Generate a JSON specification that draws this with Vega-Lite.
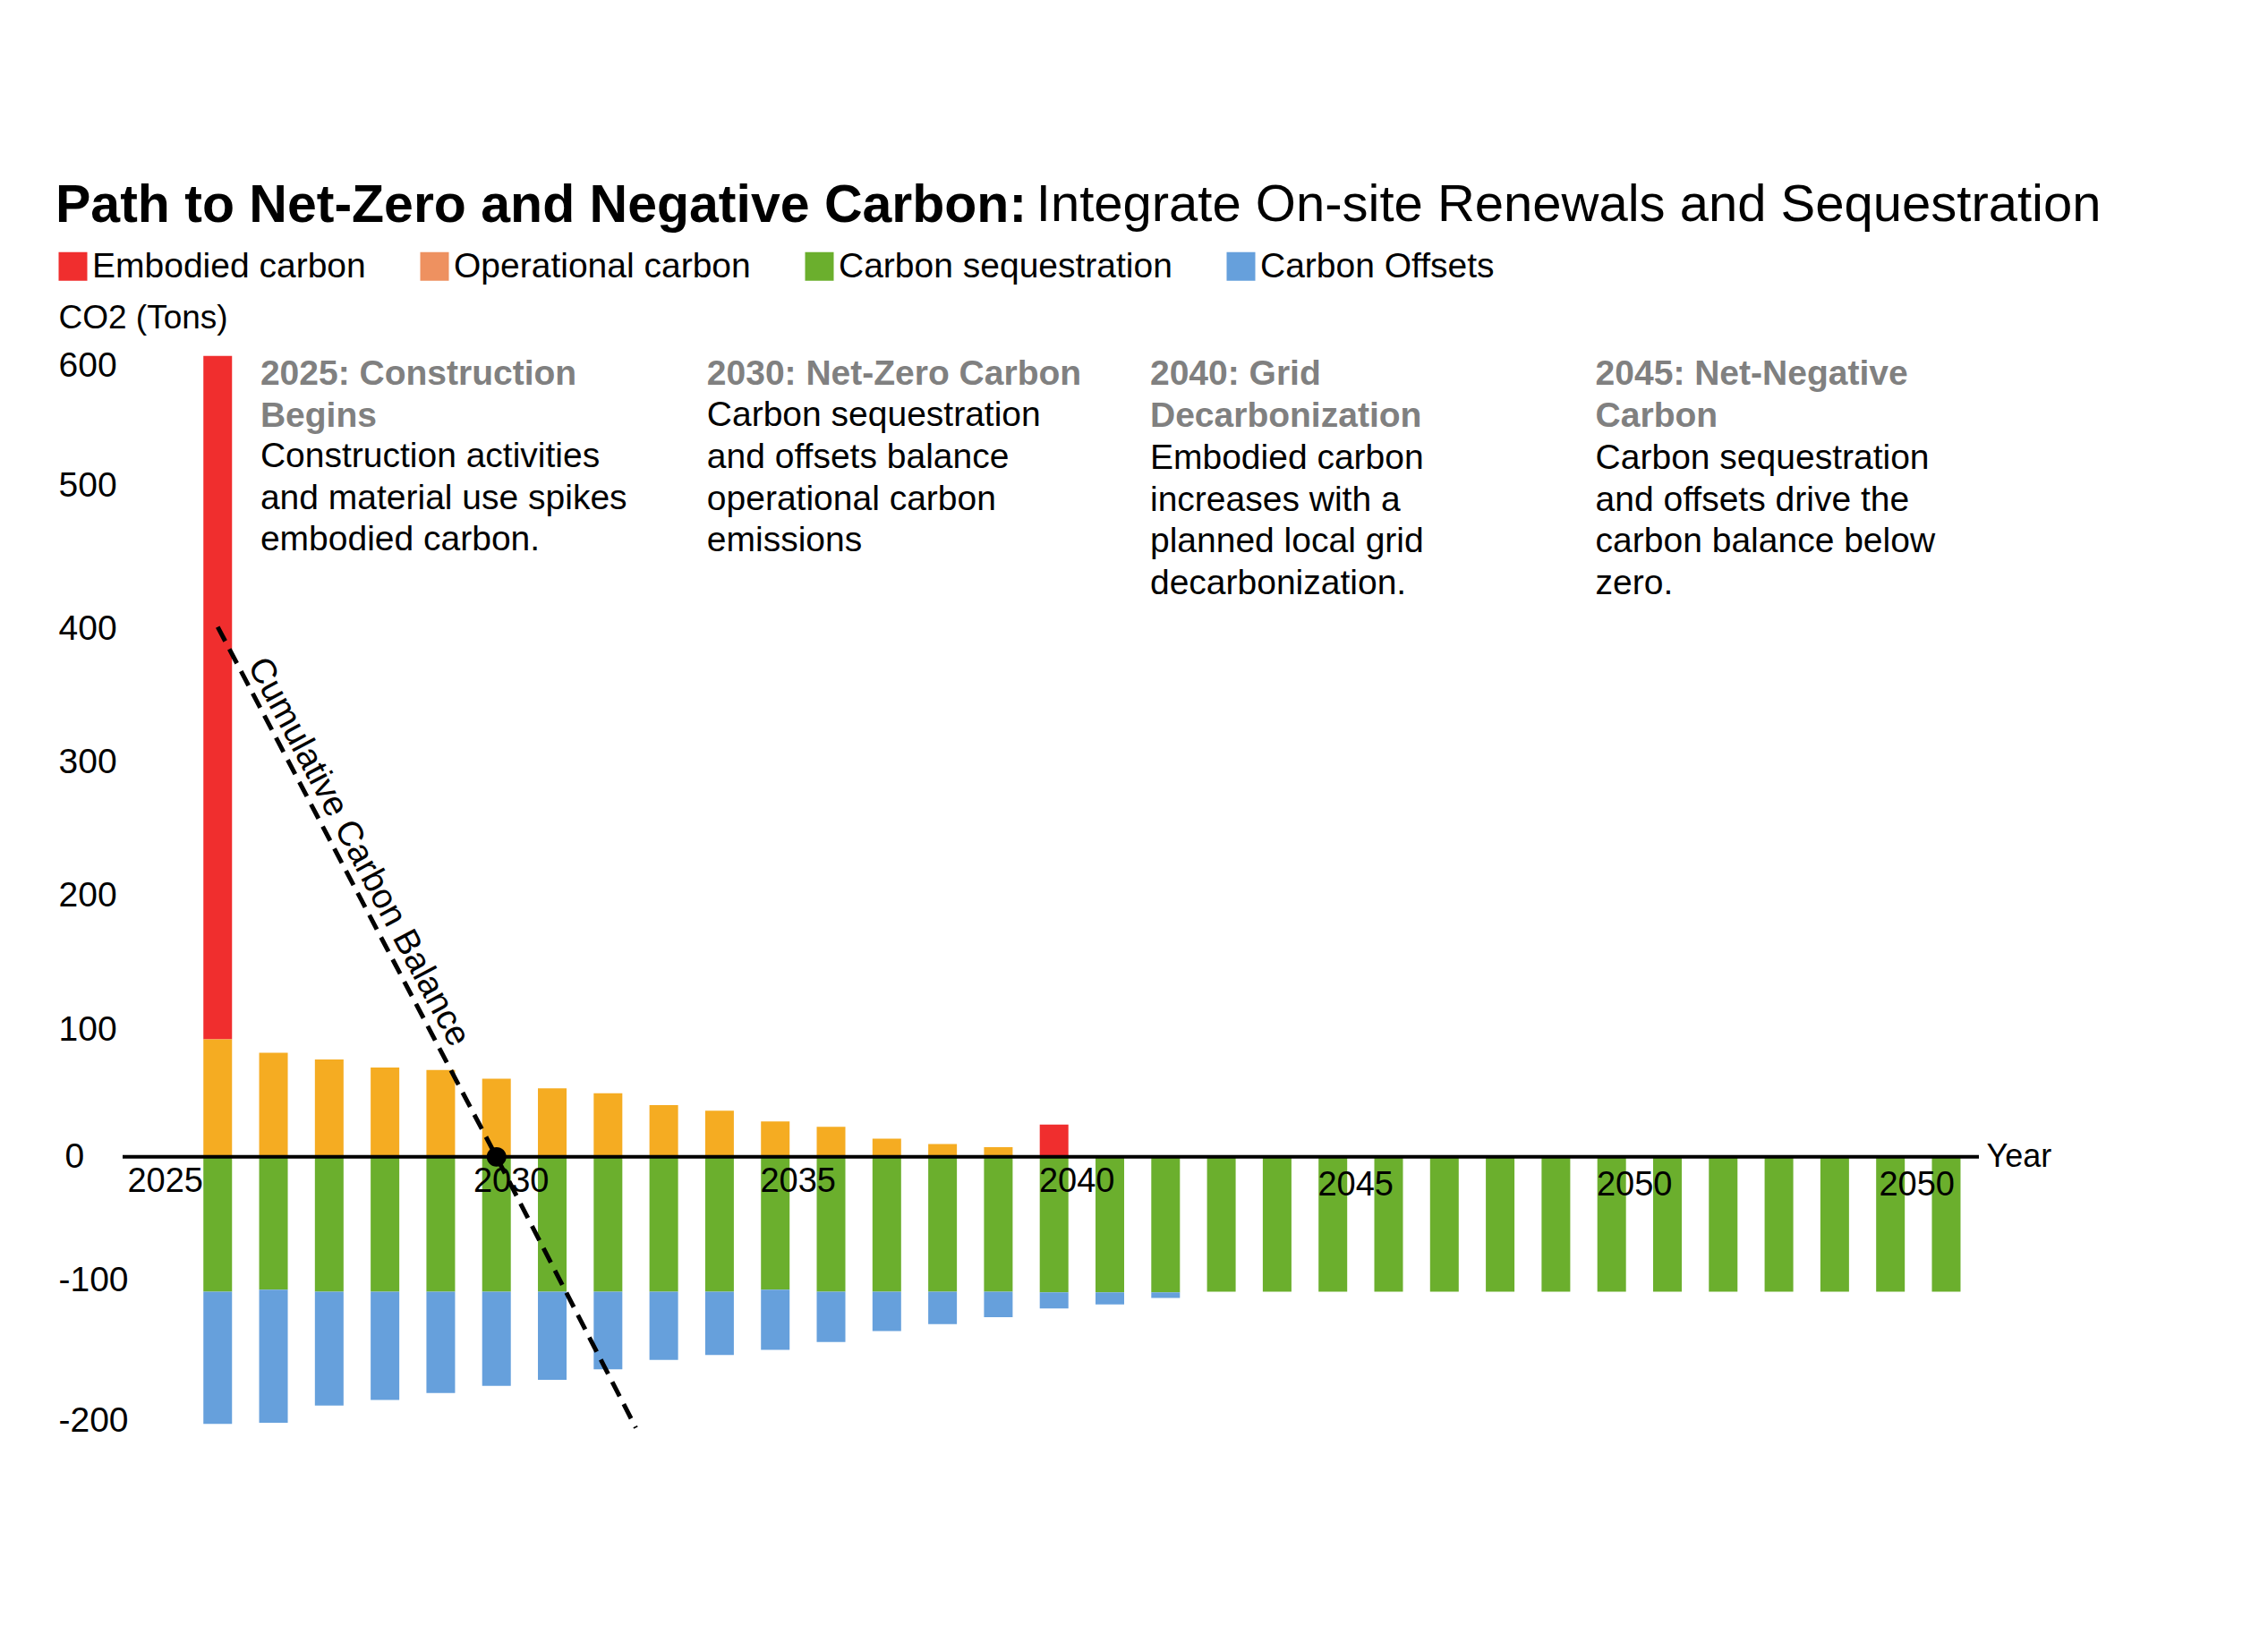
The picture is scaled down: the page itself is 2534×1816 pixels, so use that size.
{
  "$schema": "https://vega.github.io/schema/vega-lite/v6.json",
  "width": 2074,
  "height": 1298,
  "autosize": {"type": "none"},
  "padding": {"left": 137, "top": 338, "right": 323, "bottom": 180},
  "background": "white",
  "config": {
    "font": "Liberation Sans",
    "view": {"stroke": null}
  },
  "title": {
    "text": "Path to Net-Zero and Negative Carbon:",
    "subtitle": "\u200b\u00a0\u00a0\u00a0\u00a0\u00a0\u00a0\u00a0\u00a0\u00a0\u00a0\u00a0\u00a0\u00a0\u00a0\u00a0\u00a0\u00a0\u00a0\u00a0\u00a0\u00a0\u00a0\u00a0\u00a0\u00a0\u00a0\u00a0\u00a0\u00a0\u00a0\u00a0\u00a0\u00a0\u00a0\u00a0\u00a0\u00a0\u00a0\u00a0\u00a0\u00a0\u00a0\u00a0\u00a0\u00a0\u00a0\u00a0\u00a0\u00a0\u00a0\u00a0\u00a0\u00a0\u00a0\u00a0\u00a0\u00a0\u00a0\u00a0\u00a0\u00a0\u00a0\u00a0\u00a0\u00a0\u00a0\u00a0\u00a0Integrate On-site Renewals and Sequestration",
    "anchor": "start",
    "frame": "bounds",
    "font": "Liberation Sans",
    "fontSize": 59,
    "fontWeight": "bold",
    "color": "black",
    "subtitleFont": "Liberation Sans",
    "subtitleFontSize": 58,
    "subtitleFontWeight": "normal",
    "subtitleColor": "black",
    "subtitlePadding": -59,
    "offset": 18
  },
  "datasets": {
    "bars": [
      {"year": 2025, "Embodied carbon": 512, "Operational carbon": 88, "Carbon sequestration": -101, "Carbon Offsets": -99},
      {"year": 2026, "Operational carbon": 78, "Carbon sequestration": -99.5, "Carbon Offsets": -99.7},
      {"year": 2027, "Operational carbon": 73, "Carbon sequestration": -101, "Carbon Offsets": -85.2},
      {"year": 2028, "Operational carbon": 67, "Carbon sequestration": -101, "Carbon Offsets": -81},
      {"year": 2029, "Operational carbon": 65, "Carbon sequestration": -101, "Carbon Offsets": -75.8},
      {"year": 2030, "Operational carbon": 58.5, "Carbon sequestration": -101, "Carbon Offsets": -70.6},
      {"year": 2031, "Operational carbon": 51.3, "Carbon sequestration": -101, "Carbon Offsets": -66},
      {"year": 2032, "Operational carbon": 47.7, "Carbon sequestration": -101, "Carbon Offsets": -58.2},
      {"year": 2033, "Operational carbon": 38.8, "Carbon sequestration": -101, "Carbon Offsets": -51.1},
      {"year": 2034, "Operational carbon": 34.6, "Carbon sequestration": -101, "Carbon Offsets": -47.4},
      {"year": 2035, "Operational carbon": 26.6, "Carbon sequestration": -99.5, "Carbon Offsets": -45.1},
      {"year": 2036, "Operational carbon": 22.6, "Carbon sequestration": -101, "Carbon Offsets": -37.7},
      {"year": 2037, "Operational carbon": 13.6, "Carbon sequestration": -101, "Carbon Offsets": -29.5},
      {"year": 2038, "Operational carbon": 9.6, "Carbon sequestration": -101, "Carbon Offsets": -24.3},
      {"year": 2039, "Operational carbon": 7.3, "Carbon sequestration": -101, "Carbon Offsets": -19},
      {"year": 2040, "Embodied carbon": 24.2, "Carbon sequestration": -101.5, "Carbon Offsets": -12},
      {"year": 2041, "Carbon sequestration": -101.5, "Carbon Offsets": -9},
      {"year": 2042, "Carbon sequestration": -101.5, "Carbon Offsets": -4.2},
      {"year": 2043, "Carbon sequestration": -101},
      {"year": 2044, "Carbon sequestration": -101},
      {"year": 2045, "Carbon sequestration": -101},
      {"year": 2046, "Carbon sequestration": -101},
      {"year": 2047, "Carbon sequestration": -101},
      {"year": 2048, "Carbon sequestration": -101},
      {"year": 2049, "Carbon sequestration": -101},
      {"year": 2050, "Carbon sequestration": -101},
      {"year": 2051, "Carbon sequestration": -101},
      {"year": 2052, "Carbon sequestration": -101},
      {"year": 2053, "Carbon sequestration": -101},
      {"year": 2054, "Carbon sequestration": -101},
      {"year": 2055, "Carbon sequestration": -101},
      {"year": 2056, "Carbon sequestration": -101}
    ],
    "balance": [
      {"year": 2025, "value": 397},
      {"year": 2030, "value": 0},
      {"year": 2032.5, "value": -203}
    ],
    "netzero": [{"year": 2030, "value": 0}],
    "curve": [{"year": 2027.53, "value": 228.5, "text": "Cumulative Carbon Balance"}],
    "heads": [
      {"year": 2025.765, "value": 599, "text": ["2025: Construction", "Begins"]},
      {"year": 2033.774, "value": 599, "text": ["2030: Net-Zero Carbon"]},
      {"year": 2041.722, "value": 599, "text": ["2040: Grid", "Decarbonization"]},
      {"year": 2049.71, "value": 599, "text": ["2045: Net-Negative", "Carbon"]}
    ],
    "bodies": [
      {"year": 2025.765, "value": 537.5, "text": ["Construction activities", "and material use spikes", "embodied carbon."]},
      {"year": 2033.774, "value": 568, "text": ["Carbon sequestration", "and offsets balance", "operational carbon", "emissions"]},
      {"year": 2041.722, "value": 536, "text": ["Embodied carbon", "increases with a", "planned local grid", "decarbonization."]},
      {"year": 2049.71, "value": 536, "text": ["Carbon sequestration", "and offsets drive the", "carbon balance below", "zero."]}
    ]
  },
  "layer": [
    {
      "data": {"name": "bars"},
      "transform": [
        {"fold": ["Embodied carbon", "Operational carbon", "Carbon sequestration", "Carbon Offsets"], "as": ["type", "value"]},
        {"filter": "isValid(datum.value)"}
      ],
      "mark": {"type": "bar", "width": 32},
      "encoding": {
        "x": {
          "field": "year", "type": "quantitative",
          "scale": {"domain": [2023.375, 2056.506], "nice": false, "zero": false},
          "axis": {
            "values": [2025, 2030, 2035, 2040, 2045, 2050, 2055],
            "labelExpr": "datum.value == 2055 ? '2050' : '' + datum.value",
            "offset": -343.15,
            "domain": false, "ticks": false, "tickSize": 0, "grid": false,
            "labelFontSize": 38, "labelBaseline": "top", "labelAlign": "center",
            "labelPadding": {"expr": "datum.value >= 2045 ? 13 : 9"},
            "labelOverlap": false, "labelFlush": false, "labelColor": "black",
            "labelOffset": {"expr": "datum.value == 2025 ? -59 : datum.value == 2030 ? 16 : datum.value == 2055 ? 29 : 25"},
            "title": "Year", "titleFontSize": 36, "titleFontWeight": "normal", "titleColor": "black",
            "titleAlign": "left", "titleBaseline": "middle", "titleX": 2082, "titleY": 0,
            "zindex": 1
          }
        },
        "y": {
          "field": "value", "type": "quantitative", "stack": "zero",
          "scale": {"domain": [-230, 640], "nice": false, "zero": false},
          "axis": {
            "values": [600, 500, 400, 300, 200, 100, 0, -100, -200],
            "labelExpr": "'' + datum.value",
            "domain": false, "ticks": false, "tickSize": 0, "grid": false,
            "labelAlign": "left", "labelBaseline": "middle", "labelFontSize": 39,
            "labelPadding": {"expr": "datum.value == 0 ? 65 : 72"},
            "labelOffset": {"expr": "datum.value == 600 ? 11 : datum.value == 500 ? -4 : datum.value == 400 ? 6 : datum.value == 300 ? 6 : datum.value == 200 ? 6 : datum.value == 100 ? 7 : datum.value == 0 ? 0 : datum.value == -100 ? -12 : -4"},
            "labelColor": "black", "labelOverlap": false, "labelFlush": false,
            "title": "CO2 (Tons)", "titleAngle": 0, "titleAlign": "left", "titleBaseline": "middle",
            "titleFontSize": 37, "titleFontWeight": "normal", "titleColor": "black", "titleX": -72, "titleY": 17
          }
        },
        "color": {
          "condition": {"test": "datum.type === 'Operational carbon'", "value": "#F5AC22"},
          "field": "type", "type": "nominal",
          "scale": {
            "domain": ["Embodied carbon", "Operational carbon", "Carbon sequestration", "Carbon Offsets"],
            "range": ["#F02E2E", "#EE9160", "#6BAF2D", "#66A0DC"]
          },
          "legend": {
            "orient": "none", "legendX": -75, "legendY": -60, "direction": "horizontal", "title": null,
            "symbolType": "square", "symbolSize": 1024, "symbolStrokeWidth": 0, "symbolOpacity": 1,
            "labelFontSize": 39, "labelColor": "black", "labelOffset": 2, "labelLimit": 1000,
            "columnPadding": 57, "padding": 0
          }
        },
        "order": {"field": "type", "sort": "descending"}
      }
    },
    {
      "data": {"values": [{}]},
      "mark": {"type": "rule", "color": "black", "strokeWidth": 4},
      "encoding": {"y": {"datum": 0, "type": "quantitative"}}
    },
    {
      "data": {"name": "balance"},
      "mark": {"type": "line", "color": "black", "strokeWidth": 5, "strokeDash": [18, 10]},
      "encoding": {
        "x": {"field": "year", "type": "quantitative"},
        "y": {"field": "value", "type": "quantitative"}
      }
    },
    {
      "data": {"name": "netzero"},
      "mark": {"type": "point", "filled": true, "size": 480, "color": "black", "opacity": 1},
      "encoding": {
        "x": {"field": "year", "type": "quantitative"},
        "y": {"field": "value", "type": "quantitative"}
      }
    },
    {
      "data": {"name": "curve"},
      "mark": {"type": "text", "angle": 62, "fontSize": 39, "align": "center", "baseline": "middle", "color": "black"},
      "encoding": {
        "x": {"field": "year", "type": "quantitative"},
        "y": {"field": "value", "type": "quantitative"},
        "text": {"field": "text"}
      }
    },
    {
      "data": {"name": "heads"},
      "mark": {"type": "text", "fontSize": 39, "fontWeight": "bold", "align": "left", "baseline": "top", "color": "#808080", "lineHeight": 46.6},
      "encoding": {
        "x": {"field": "year", "type": "quantitative"},
        "y": {"field": "value", "type": "quantitative"},
        "text": {"field": "text"}
      }
    },
    {
      "data": {"name": "bodies"},
      "mark": {"type": "text", "fontSize": 39, "align": "left", "baseline": "top", "color": "black", "lineHeight": 46.6},
      "encoding": {
        "x": {"field": "year", "type": "quantitative"},
        "y": {"field": "value", "type": "quantitative"},
        "text": {"field": "text"}
      }
    }
  ]
}
